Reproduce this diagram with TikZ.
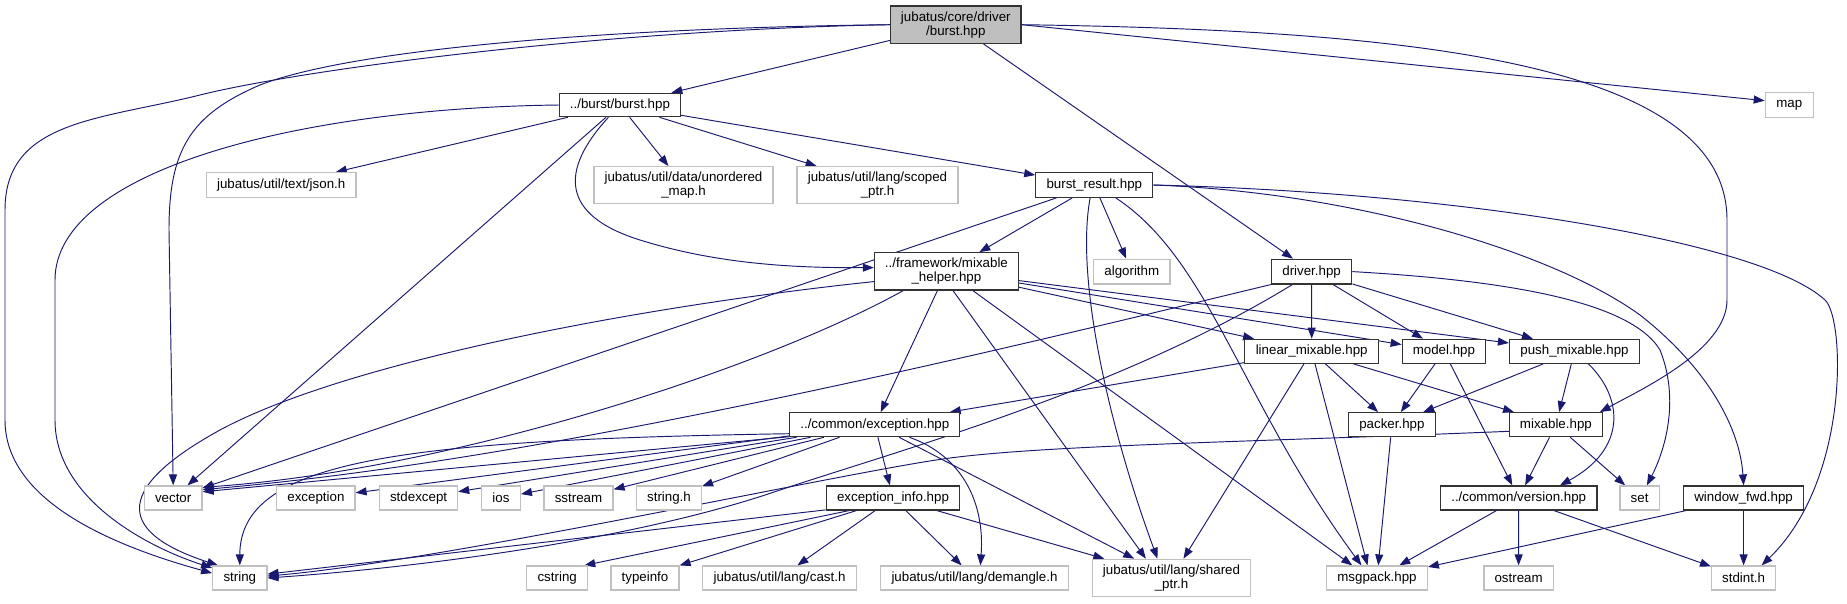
\documentclass[tikz,border=0pt]{standalone}
\usepackage{fontspec}
\setmainfont{Liberation Sans}
\usetikzlibrary{arrows.meta,backgrounds}
\definecolor{edgec}{HTML}{191970}
\definecolor{extc}{HTML}{C0C0C0}
\definecolor{rootfill}{HTML}{BFBFBF}
\newcommand{\lblfont}{\fontsize{13.33}{14}\selectfont}
\tikzset{
  box/.style={inner sep=0pt, font=\lblfont, align=center, fill=white, minimum height=24pt},
  doc/.style={box, draw=black!80, line width=1.2pt},
  ext/.style={box, draw=extc, line width=1.2pt},
  e/.style={draw=edgec, line width=0.95pt, -{Triangle[length=11pt,width=8pt]}}
}
\begin{document}
\begin{tikzpicture}[x=1pt,y=-1pt]
\useasboundingbox (0,0) rectangle (1847,603);
% nodes
\node[doc, fill=rootfill, minimum width=130.5pt, minimum height=37.3pt] (root) at (955.8,24.7) {jubatus/core/driver\\/burst.hpp};
\node[doc, minimum width=120.8pt, minimum height=23.4pt] (burst) at (619.9,105) {../burst/burst.hpp};
\node[ext, minimum width=149.5pt, minimum height=24.6pt] (json) at (281.2,185) {jubatus/util/text/json.h};
\node[ext, minimum width=179pt, minimum height=36.6pt] (umap) at (683.5,185) {jubatus/util/data/unordered\\\_map.h};
\node[ext, minimum width=161pt, minimum height=36.6pt] (scoped) at (877.5,185) {jubatus/util/lang/scoped\\\_ptr.h};
\node[doc, minimum width=117pt, minimum height=24.6pt] (bresult) at (1094.3,185) {burst\_result.hpp};
\node[doc, minimum width=144pt, minimum height=37.3pt] (mhelper) at (946.4,271.4) {../framework/mixable\\\_helper.hpp};
\node[ext, minimum width=76.5pt, minimum height=24.7pt] (algorithm) at (1131.8,271.6) {algorithm};
\node[ext, minimum width=47.8pt, minimum height=24.6pt] (map) at (1789.2,105) {map};
\node[doc, minimum width=80.4pt, minimum height=24.7pt] (driver) at (1311.6,271.6) {driver.hpp};
\node[doc, minimum width=134pt] (linear) at (1311.7,351.3) {linear\_mixable.hpp};
\node[doc, minimum width=83.3pt] (model) at (1443.9,351.3) {model.hpp};
\node[doc, minimum width=130pt] (push) at (1574.5,351.3) {push\_mixable.hpp};
\node[doc, minimum width=170pt] (exc) at (874.8,424.7) {../common/exception.hpp};
\node[doc, minimum width=86.7pt] (packer) at (1391.9,424.7) {packer.hpp};
\node[doc, minimum width=92.8pt] (mixable) at (1555.9,424.7) {mixable.hpp};
\node[ext, minimum width=57.7pt] (vector) at (173.2,498) {vector};
\node[ext, minimum width=78.2pt] (exception) at (315.9,498) {exception};
\node[ext, minimum width=78pt] (stdexcept) at (418.6,498) {stdexcept};
\node[ext, minimum width=38.7pt] (ios) at (501,498) {ios};
\node[ext, minimum width=69pt] (sstream) at (578.5,498) {sstream};
\node[ext, minimum width=65pt] (stringh) at (669,498) {string.h};
\node[doc, minimum width=133.6pt] (einfo) at (893,498) {exception\_info.hpp};
\node[doc, minimum width=156.4pt] (version) at (1518.7,498) {../common/version.hpp};
\node[ext, minimum width=39.2pt] (set) at (1639.6,498) {set};
\node[doc, minimum width=120pt] (window) at (1743.6,498) {window\_fwd.hpp};
\node[ext, minimum width=54.2pt] (string) at (239.8,578) {string};
\node[ext, minimum width=61pt] (cstring) at (557.2,578) {cstring};
\node[ext, minimum width=68pt] (typeinfo) at (645,578) {typeinfo};
\node[ext, minimum width=153.4pt] (cast) at (779.5,578) {jubatus/util/lang/cast.h};
\node[ext, minimum width=187.5pt] (demangle) at (974.5,578) {jubatus/util/lang/demangle.h};
\node[ext, minimum width=158.4pt, minimum height=37.4pt] (shared) at (1171.5,578) {jubatus/util/lang/shared\\\_ptr.h};
\node[ext, minimum width=100.6pt] (msgpack) at (1377,578) {msgpack.hpp};
\node[ext, minimum width=69.3pt] (ostream) at (1518.6,578) {ostream};
\node[ext, minimum width=64pt] (stdint) at (1743.6,578) {stdint.h};

\begin{pgfonlayer}{background}
\fill[white] (0,0) rectangle (1847,603);
% root
\draw[e] (root) -- (burst);
\draw[e] (root.west) .. controls (600,30) and (300,70) .. (200,95) .. controls (100,120) and (5,120) .. (5,210) -- (5,420) .. controls (5,500) and (110,545) .. (string.170);
\draw[e] (root.west) .. controls (600,28) and (350,50) .. (260,85) .. controls (190,115) and (169,150) .. (169,230) -- (vector.north);
\draw[e] (root) -- (driver);
\draw[e] (root.east) -- (map.170);
\draw[e] (root.east) .. controls (1400,30) and (1727,60) .. (1727,220) -- (1727,300) .. controls (1727,350) and (1640,390) .. (mixable.16);
% burst
\draw[e] (burst) -- (json);
\draw[e] (burst) -- (umap);
\draw[e] (burst) -- (scoped);
\draw[e] (burst) -- (bresult);
\draw[e] (burst.227) .. controls (560,170) and (560,215) .. (640,240) .. controls (720,265) and (800,268) .. (mhelper.177);
\draw[e] (burst.west) .. controls (300,108) and (55,170) .. (55,280) -- (55,420) .. controls (55,500) and (150,548) .. (string.160);
\draw[e] (burst) -- (vector);
% burst_result
\draw[e] (bresult) -- (mhelper);
\draw[e] (bresult) -- (vector);
\draw[e] (bresult) -- (algorithm);
\draw[e] (bresult.252) .. controls (1075,280) and (1110,430) .. (shared.126);
\draw[e] (bresult.329) .. controls (1210,260) and (1240,400) .. (msgpack.141);
\draw[e] (bresult.east) .. controls (1350,192) and (1550,250) .. (1640,315) .. controls (1710,370) and (1740,430) .. (window.north);
\draw[e] (bresult.east) .. controls (1450,192) and (1760,240) .. (1825,300) .. controls (1845,318) and (1850,480) .. (stdint.35);
% mixable_helper
\draw[e] (mhelper) -- (exc);
\draw[e] (mhelper) -- (linear);
\draw[e] (mhelper) -- (model);
\draw[e] (mhelper) -- (push);
\draw[e] (mhelper.289) -- (shared.143);
\draw[e] (mhelper.324) -- (msgpack.153);
\draw[e] (mhelper.188) .. controls (650,305) and (350,360) .. (220,430) .. controls (120,485) and (110,530) .. (string.150);
\draw[e] (mhelper.204) .. controls (760,370) and (450,470) .. (vector.20);
% driver
\draw[e] (driver) -- (linear);
\draw[e] (driver) -- (model);
\draw[e] (driver) -- (push);
\draw[e] (driver.east) .. controls (1500,280) and (1630,300) .. (1660,350) .. controls (1680,400) and (1665,450) .. (set.60);
\draw[e] (driver.south west) .. controls (1000,350) and (550,460) .. (vector.16);
\draw[e] (driver.214) .. controls (1120,390) and (900,450) .. (780,490) .. controls (650,535) and (450,565) .. (string.east);
% exception.hpp
\draw[e] (exc.188) -- (vector.12);
\draw[e] (exc) -- (exception);
\draw[e] (exc) -- (stdexcept);
\draw[e] (exc) -- (ios);
\draw[e] (exc) -- (sstream);
\draw[e] (exc) -- (stringh);
\draw[e] (exc) -- (einfo);
\draw[e] (exc.340) .. controls (960,455) and (985,500) .. (demangle.65);
\draw[e] (exc) -- (shared);
\draw[e] (exc.186) .. controls (400,440) and (240,460) .. (string.north);
% exception_info
\draw[e] (einfo.190) -- (string.8);
\draw[e] (einfo.196) -- (cstring.25);
\draw[e] (einfo.199) -- (typeinfo.20);
\draw[e] (einfo) -- (cast);
\draw[e] (einfo) -- (demangle);
\draw[e] (einfo) -- (shared);
% linear_mixable
\draw[e] (linear) -- (exc);
\draw[e] (linear) -- (packer);
\draw[e] (linear) -- (mixable);
\draw[e] (linear) -- (msgpack.127);
\draw[e] (linear) -- (shared);
% model
\draw[e] (model) -- (packer);
\draw[e] (model) -- (version);
% push_mixable
\draw[e] (push) -- (packer);
\draw[e] (push) -- (mixable);
\draw[e] (push.318) .. controls (1625,400) and (1625,450) .. (version.17);
% mixable
\draw[e] (mixable) -- (version);
\draw[e] (mixable) -- (set);
\draw[e] (mixable.188) .. controls (1250,442) and (1050,445) .. (950,458) .. controls (850,471) and (450,560) .. (string.4);
% packer, version, window
\draw[e] (packer) -- (msgpack);
\draw[e] (version) -- (msgpack);
\draw[e] (version) -- (ostream);
\draw[e] (version) -- (stdint);
\draw[e] (window) -- (msgpack);
\draw[e] (window) -- (stdint);
\end{pgfonlayer}
\end{tikzpicture}
\end{document}
